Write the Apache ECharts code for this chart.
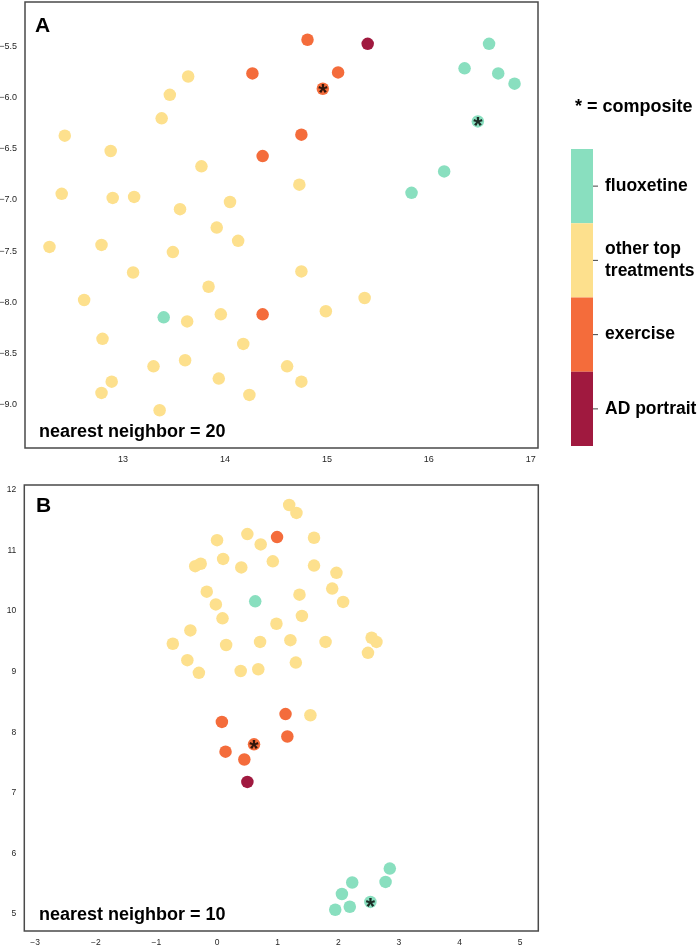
<!DOCTYPE html>
<html><head><meta charset="utf-8">
<script src="https://cdn.jsdelivr.net/npm/echarts@6/dist/echarts.min.js"></script>
<style>html,body{margin:0;padding:0;background:#fff}#c{width:699px;height:946px}</style>
</head><body><div id="c"></div>
<script>
// ---------- data ----------
const categories = ['fluoxetine', 'other top treatments', 'exercise', 'AD portrait'];

// Panel A (nearest neighbor = 20)
const fluoxetineA = [[16.59,-5.47],[16.35,-5.71],[16.68,-5.76],[16.84,-5.86],[16.48,-6.23],[16.15,-6.72],[15.83,-6.93],[13.40,-8.15]];
const otherA = [[13.64,-5.79],[13.46,-5.97],[13.38,-6.20],[12.43,-6.37],[12.88,-6.52],[13.77,-6.67],[12.40,-6.94],[12.90,-6.98],[13.11,-6.97],[13.56,-7.09],[14.05,-7.02],[13.92,-7.27],[14.13,-7.40],[12.79,-7.44],[14.73,-6.85],[12.28,-7.46],[13.49,-7.51],[13.10,-7.71],[13.84,-7.85],[12.62,-7.98],[13.63,-8.19],[13.96,-8.12],[12.80,-8.36],[14.18,-8.41],[13.61,-8.57],[13.30,-8.63],[12.89,-8.78],[13.94,-8.75],[12.79,-8.89],[14.24,-8.91],[13.36,-9.06],[14.75,-7.70],[15.37,-7.96],[14.99,-8.09],[14.61,-8.63],[14.75,-8.78]];
const exerciseA = [[14.27,-5.76],[14.37,-6.57],[14.81,-5.43],[15.11,-5.75],[14.96,-5.91],[14.75,-6.36],[14.37,-8.12]];
const adPortraitA = [[15.40,-5.47]];
const compositeA = [[14.96,-5.91],[16.48,-6.23]];

// Panel B (nearest neighbor = 10)
const fluoxetineB = [[0.63,10.16],[2.85,5.75],[2.23,5.52],[2.78,5.53],[2.06,5.33],[2.53,5.20],[2.19,5.12],[1.95,5.07]];
const otherB = [[0.00,11.17],[0.50,11.27],[0.72,11.10],[-0.36,10.74],[-0.27,10.78],[0.10,10.86],[0.40,10.72],[0.92,10.82],[-0.17,10.32],[-0.02,10.11],[0.09,9.88],[0.98,9.79],[-0.44,9.68],[-0.73,9.46],[0.15,9.44],[0.71,9.49],[-0.49,9.19],[-0.30,8.98],[0.39,9.01],[0.68,9.04],[1.19,11.75],[1.31,11.62],[1.60,11.21],[1.60,10.75],[1.97,10.63],[1.90,10.37],[2.08,10.15],[1.36,10.27],[1.40,9.92],[1.21,9.52],[1.79,9.49],[2.55,9.56],[2.63,9.49],[2.49,9.31],[1.30,9.15],[1.54,8.28]];
const exerciseB = [[0.99,11.22],[0.08,8.17],[1.13,8.30],[1.16,7.93],[0.61,7.80],[0.14,7.68],[0.45,7.55]];
const adPortraitB = [[0.50,7.18]];
const compositeB = [[0.61,7.80],[2.53,5.20]];

// tick labels
const xTicksA = [13, 14, 15, 16, 17];
const yTicksA = [-9.0, -8.5, -8.0, -7.5, -7.0, -6.5, -6.0, -5.5];
const xTicksB = [-3, -2, -1, 0, 1, 2, 3, 4, 5];
const yTicksB = [5, 6, 7, 8, 9, 10, 11, 12];

const panelTitles = ['A', 'B'];
const panelNotes = ['nearest neighbor = 20', 'nearest neighbor = 10'];
const compositeNote = '* = composite';

// ---------- styles ----------
const palette = { 'fluoxetine': '#89dfbf', 'other top treatments': '#fde08d', 'exercise': '#f46c3b', 'AD portrait': '#a0193f' };
const FONT = 'Liberation Sans, Arial, sans-serif';
const tickColor = '#262626';
const minus = s => String(s).replace('-', '\u2212');

function axisCommon(ticks, fmt, fs, margin) {
  return {
    type: 'value', scale: true,
    axisLine: { show: false }, axisTick: { show: false }, splitLine: { show: false },
    axisLabel: { customValues: ticks, formatter: fmt, fontSize: fs, color: tickColor, fontFamily: FONT, margin: margin, showMinLabel: true, showMaxLabel: true }
  };
}

const chart = echarts.init(document.getElementById('c'), null, { renderer: 'canvas' });

function catSeries(data, cat, xi) {
  return {
    type: 'scatter', name: cat, xAxisIndex: xi, yAxisIndex: xi, data: data,
    symbolSize: 12.5, itemStyle: { color: palette[cat], opacity: 1 }, silent: true
  };
}
function compSeries(data, xi) {
  return {
    type: 'scatter', xAxisIndex: xi, yAxisIndex: xi, data: data, symbolSize: 1, silent: true, z: 5,
    itemStyle: { color: 'rgba(0,0,0,0)' },
    label: { show: true, position: 'inside', formatter: '*', fontSize: 24, fontWeight: 'bold', color: '#000', fontFamily: FONT, offset: [0, 6] }
  };
}

const gridStyle = { show: true, borderColor: '#4a4a4a', borderWidth: 1.5, backgroundColor: '#fff', outerBoundsMode: 'none', containLabel: false };

const pieceH = 74.25;
const legendTop = 149;

const option = {
  animation: false,
  backgroundColor: '#fff',
  grid: [
    Object.assign({ left: 25, top: 2, width: 513, height: 446 }, gridStyle),
    Object.assign({ left: 24.3, top: 485, width: 514, height: 446 }, gridStyle)
  ],
  xAxis: [
    Object.assign(axisCommon(xTicksA, v => minus(v), 9, 7), { gridIndex: 0, min: 12.04, max: 17.07 }),
    Object.assign(axisCommon(xTicksB, v => minus(v), 8.5, 7), { gridIndex: 1, min: -3.18, max: 5.30 })
  ],
  yAxis: [
    Object.assign(axisCommon(yTicksA, v => minus(v.toFixed(1)), 9, 8), { gridIndex: 0, min: -9.43, max: -5.06 }),
    Object.assign(axisCommon(yTicksB, v => minus(v), 8.5, 8), { gridIndex: 1, min: 4.72, max: 12.08 })
  ],
  visualMap: [{
    type: 'piecewise', categories: categories, orient: 'vertical', inverse: true,
    left: 571, top: legendTop, itemWidth: 22, itemHeight: pieceH, itemGap: 0, itemSymbol: 'rect',
    padding: 0, textGap: 12, align: 'left', seriesIndex: [], selectedMode: false, hoverLink: false,
    inRange: { color: categories.map(c => palette[c]) },
    formatter: v => v === 'other top treatments' ? 'other top\ntreatments' : v,
    textStyle: { fontSize: 17.5, fontWeight: 'bold', color: '#000', fontFamily: FONT, lineHeight: 22 }
  }],
  series: [
    catSeries(otherA, 'other top treatments', 0),
    catSeries(fluoxetineA, 'fluoxetine', 0),
    catSeries(exerciseA, 'exercise', 0),
    catSeries(adPortraitA, 'AD portrait', 0),
    compSeries(compositeA, 0),
    catSeries(otherB, 'other top treatments', 1),
    catSeries(fluoxetineB, 'fluoxetine', 1),
    catSeries(exerciseB, 'exercise', 1),
    catSeries(adPortraitB, 'AD portrait', 1),
    compSeries(compositeB, 1)
  ],
  graphic: [
    { type: 'text', left: 35, top: 16, style: { text: panelTitles[0], font: 'bold 21px ' + FONT, fill: '#000' } },
    { type: 'text', left: 36, top: 496, style: { text: panelTitles[1], font: 'bold 21px ' + FONT, fill: '#000' } },
    { type: 'text', left: 39, top: 423, style: { text: panelNotes[0], font: 'bold 18px ' + FONT, fill: '#000' } },
    { type: 'text', left: 39, top: 906, style: { text: panelNotes[1], font: 'bold 18px ' + FONT, fill: '#000' } },
    { type: 'text', left: 575, top: 98, style: { text: compositeNote, font: 'bold 18px ' + FONT, fill: '#000' } }
  ].concat(categories.map((c, i) => ({
    type: 'line', shape: { x1: 593, y1: legendTop + pieceH * (i + 0.5), x2: 598, y2: legendTop + pieceH * (i + 0.5) },
    style: { stroke: '#444', lineWidth: 1 }, z: 10
  })))
};
chart.setOption(option);
</script>
</body></html>
